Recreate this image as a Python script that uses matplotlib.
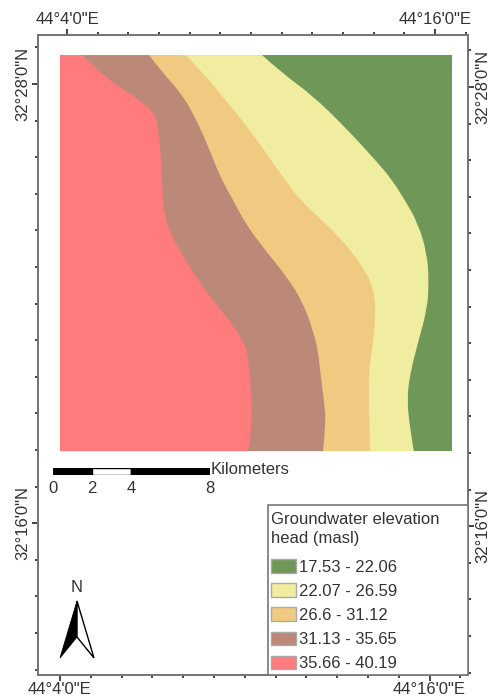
import matplotlib
matplotlib.use("Agg")
import matplotlib.pyplot as plt
from matplotlib.patches import Patch, PathPatch, Polygon, Rectangle
from matplotlib.path import Path

plt.rcParams['font.family'] = ['Liberation Sans', 'DejaVu Sans']

W, H = 489, 696
TXT = '#333333'
EDGE = '#777777'

# extent of the raster, minutes of arc (lon past 44 deg, lat past 32 deg)
west, east = 4.0, 16.73
south, north = 17.97, 28.79

# zone boundaries, north to south
red_brown_lon = [4.71, 5.30, 5.72, 6.50, 7.08, 7.21, 7.28, 7.34, 7.38, 7.57, 8.12, 8.77, 9.42, 10.01, 10.10, 10.20, 10.23, 10.20, 10.10]
red_brown_lat = [28.79, 28.33, 28.03, 27.62, 27.21, 26.66, 26.01, 24.83, 24.48, 23.93, 23.11, 22.29, 21.63, 20.92, 20.54, 19.72, 19.01, 18.47, 17.97]
brown_orange_lon = [6.89, 7.34, 7.90, 8.32, 8.77, 9.20, 9.62, 10.01, 10.66, 11.40, 11.89, 12.18, 12.38, 12.47, 12.57, 12.64, 12.54]
brown_orange_lat = [28.79, 28.30, 27.78, 27.21, 26.39, 25.46, 24.83, 24.20, 23.46, 22.70, 22.02, 21.36, 20.73, 20.00, 19.37, 18.74, 17.97]
orange_yellow_lon = [8.09, 8.77, 9.42, 10.01, 10.56, 11.14, 11.79, 12.51, 13.25, 13.90, 14.16, 14.26, 14.20, 14.10, 14.03, 14.03, 14.07]
orange_yellow_lat = [28.79, 28.19, 27.51, 26.91, 26.28, 25.57, 24.83, 24.28, 23.66, 22.92, 22.45, 21.91, 21.20, 20.54, 20.10, 19.18, 17.97]
yellow_green_lon = [10.56, 11.21, 12.18, 13.25, 14.33, 14.78, 15.20, 15.62, 15.92, 15.98, 15.92, 15.62, 15.36, 15.27, 15.36, 15.49]
yellow_green_lat = [28.79, 28.30, 27.70, 26.83, 25.84, 25.38, 24.83, 24.20, 23.38, 22.56, 21.83, 20.92, 20.05, 19.37, 18.63, 17.97]

classes = ['17.53 - 22.06', '22.07 - 26.59', '26.6 - 31.12', '31.13 - 35.65', '35.66 - 40.19']
colors = ['#6F9858', '#F0EDA0', '#F0CA80', '#BC8877', '#FF7B7C']

scale_km = [0, 2, 4, 8]
scale_fill = ['black', 'white', 'black']


def zone_path(blon, blat):
    """Closed shape west of a boundary, the boundary rounded with quadratic curves"""
    pts = [(west, north), (blon[0], blat[0])]
    codes = [Path.MOVETO, Path.LINETO]
    for i in range(1, len(blon) - 1):
        if i < len(blon) - 2:
            end = ((blon[i] + blon[i + 1]) / 2, (blat[i] + blat[i + 1]) / 2)
        else:
            end = (blon[i + 1], blat[i + 1])
        pts += [(blon[i], blat[i]), end]
        codes += [Path.CURVE3, Path.CURVE3]
    pts += [(west, south), (west, north)]
    codes += [Path.LINETO, Path.CLOSEPOLY]
    return Path(pts, codes)


fig = plt.figure(figsize=(W / 100, H / 100), dpi=100)
ax = fig.add_axes([38 / W, 1 - 675 / H, 430 / W, 640.5 / H])
ax.set_xlim(3.286, 17.25)
ax.set_ylim(11.852, 29.352)

# paint zones from east to west, each one over the last
ax.fill([west, east, east, west], [north, north, south, south], color=colors[0], lw=0)
bounds = [(yellow_green_lon, yellow_green_lat), (orange_yellow_lon, orange_yellow_lat),
          (brown_orange_lon, brown_orange_lat), (red_brown_lon, red_brown_lat)]
for (blon, blat), c in zip(bounds, colors[1:]):
    ax.add_patch(PathPatch(zone_path(blon, blat), fc=c, lw=0))

# the top and right graticules sit a few pixels off the bottom and left ones
top = ax.twiny()
top.set_xlim(3.054, 17.075)
right = ax.twinx()
right.set_ylim(11.934, 29.434)

minutes_lon = list(range(4, 18))
minutes_lat = list(range(12, 30))
for a in (ax, top):
    a.set_xticks(minutes_lon, minor=True)
    a.set_xticks([4, 16], ['44°4\'0"E', '44°16\'0"E'])
for a in (ax, right):
    a.set_yticks(minutes_lat, minor=True)
    a.set_yticks([16, 28], ['32°16\'0"N', '32°28\'0"N'], rotation=90, va='center')

for a in (ax, top, right):
    a.tick_params(which='major', length=4.3, width=1.1, color='#111111', labelsize=12, labelcolor=TXT, pad=1)
    a.tick_params(which='minor', length=2.4, width=1.1, color='#111111')
    for s in a.spines.values():
        s.set_color(EDGE)
        s.set_linewidth(1.2)

# legend box is a fixed size in the map, wider than its text
fig.add_artist(Rectangle((268 / W, 1 - 675 / H), 200 / W, 170 / H, fc='white', ec=EDGE, lw=1.2,
                         transform=fig.transFigure, zorder=4))
fig.text(271 / W, 1 - 529 / H, 'Groundwater elevation\nhead (masl)', fontsize=12, color=TXT, ha='left',
         va='center', linespacing=1.35, zorder=6)
handles = [Patch(facecolor=c, edgecolor='#AAAAAA', lw=1) for c in colors]
leg = fig.legend(handles, classes, loc='lower left', bbox_to_anchor=(266 / W, 1 - 676 / H), borderaxespad=0,
                 borderpad=0.3, fontsize=12, frameon=False, handlelength=1.5, handleheight=0.85,
                 handletextpad=0.2, labelspacing=0.52, labelcolor=TXT)
leg.set_zorder(6)

# scale bar
sb = fig.add_axes([53 / W, 1 - 475 / H, 157 / W, 7.3 / H])
sb.barh(0, [b - a for a, b in zip(scale_km, scale_km[1:])], left=scale_km[:-1], height=1,
        color=scale_fill, edgecolor='black', lw=1)
sb.set_xlim(0, 8)
sb.set_ylim(-0.5, 0.5)
sb.set_yticks([])
sb.set_xticks(scale_km, [str(k) for k in scale_km])
sb.tick_params(length=0, labelsize=12, labelcolor=TXT, pad=4)
for s in sb.spines.values():
    s.set_visible(False)
fig.text(211 / W, 1 - 470 / H, 'Kilometers', fontsize=12, color=TXT, va='center', ha='left')


# north arrow, positions in figure pixels
def px(x, y):
    return (x / W, 1 - y / H)


fig.add_artist(Polygon([px(77, 601), px(60, 658), px(77, 637)], closed=True, fc='black', ec='black', lw=0.6,
                       transform=fig.transFigure))
fig.add_artist(Polygon([px(77, 601), px(94, 658), px(77, 637)], closed=True, fc='white', ec='black', lw=1,
                       transform=fig.transFigure))
fig.text(77 / W, 1 - 588 / H, 'N', fontsize=12, color=TXT, ha='center', va='center')

fig.savefig('out.png', dpi=100)
